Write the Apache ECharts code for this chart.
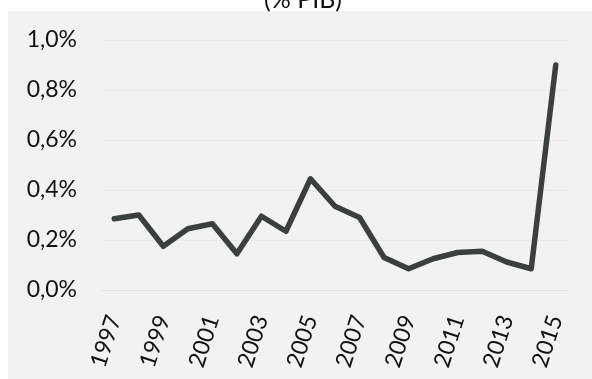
<!DOCTYPE html>
<html>
<head>
<meta charset="utf-8">
<script src="https://cdn.jsdelivr.net/npm/echarts@6/dist/echarts.min.js"></script>
<style>
  html, body { margin: 0; padding: 0; background: #ffffff; }
  #chart { width: 592px; height: 379px; }
</style>
</head>
<body>
<div id="chart"></div>
<script>
// Years on the horizontal axis
const years = ['1997','1998','1999','2000','2001','2002','2003','2004','2005','2006',
               '2007','2008','2009','2010','2011','2012','2013','2014','2015'];
// Values in % of GDP
const values = [0.285, 0.30, 0.175, 0.245, 0.265, 0.145, 0.295, 0.235, 0.445, 0.335,
                0.29, 0.13, 0.085, 0.125, 0.15, 0.155, 0.112, 0.085, 0.90];
// Vertical axis ticks
const yTicks = [0, 0.2, 0.4, 0.6, 0.8, 1.0];
const titleText = '(% PIB)';

const FONT = 'Lato, "Open Sans", sans-serif';
const chart = echarts.init(document.getElementById('chart'), null, { renderer: 'canvas' });

chart.setOption({
  backgroundColor: '#ffffff',
  animation: false,
  graphic: [
    {
      type: 'rect', z: -10, silent: true,
      shape: { x: 8, y: 11, width: 584, height: 368 },
      style: { fill: '#f2f2f2' }
    },
    {
      type: 'text', z: 10, silent: true,
      x: 303, y: 0,
      style: {
        text: titleText, fill: '#111111',
        font: '25px ' + FONT,
        textAlign: 'center', textVerticalAlign: 'middle'
      }
    }
  ],
  grid: { left: 102, right: 24, top: 40, bottom: 89, containLabel: false },
  xAxis: {
    type: 'category',
    data: years,
    boundaryGap: true,
    axisLine: { show: true, lineStyle: { color: '#e2e2e2', width: 1 } },
    axisTick: { show: false },
    axisLabel: {
      interval: 1,
      rotate: 72,
      margin: 26,
      color: '#111111',
      fontFamily: FONT,
      fontSize: 23
    },
    splitLine: { show: false }
  },
  yAxis: {
    type: 'value',
    min: yTicks[0],
    max: yTicks[yTicks.length - 1],
    interval: yTicks[1] - yTicks[0],
    axisLine: { show: false },
    axisTick: { show: false },
    axisLabel: {
      margin: 25,
      color: '#111111',
      fontFamily: FONT,
      fontSize: 23,
      formatter: v => v.toFixed(1).replace('.', ',') + '%'
    },
    splitLine: { show: true, lineStyle: { color: '#e9e9e9', width: 1 } }
  },
  series: [{
    type: 'line',
    data: values,
    symbol: 'none',
    smooth: false,
    lineStyle: { color: '#3b3f3e', width: 5.5, cap: 'round', join: 'round' }
  }]
});
</script>
</body>
</html>
